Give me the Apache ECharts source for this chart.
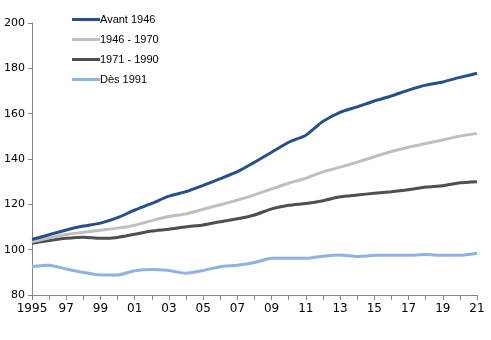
<!DOCTYPE html>
<html>
<head>
<meta charset="utf-8">
<script src="https://cdn.jsdelivr.net/npm/echarts@6/dist/echarts.min.js"></script>
<style>html,body{margin:0;padding:0;background:#fff}#c{width:491px;height:340px}</style>
</head>
<body>
<div id="c"></div>
<script>
const years = ['1995','96','97','98','99','00','01','02','03','04','05','06','07','08','09','10','11','12','13','14','15','16','17','18','19','20','21'];
const seriesNames = ['Avant 1946','1946 - 1970','1971 - 1990','Dès 1991'];
const avant1946 = [104.5,106.6,108.7,110.4,111.7,114.1,117.5,120.4,123.6,125.6,128.4,131.3,134.4,138.6,143.0,147.4,150.5,156.6,160.6,163.0,165.6,167.8,170.4,172.6,174.0,176.0,177.8];
const s1946_1970 = [103.5,105.2,106.7,107.7,108.6,109.5,110.8,112.8,114.6,115.8,117.8,119.8,121.9,124.2,126.8,129.3,131.5,134.3,136.4,138.6,141.0,143.3,145.2,146.8,148.4,150.1,151.3];
const s1971_1990 = [102.8,104.0,105.0,105.5,105.0,105.4,106.8,108.2,109.0,110.1,110.9,112.3,113.6,115.3,118.0,119.6,120.4,121.6,123.3,124.1,124.9,125.6,126.4,127.6,128.2,129.5,130.0];
const des1991 = [92.6,93.1,91.5,90.0,88.8,88.8,90.7,91.3,90.8,89.6,90.8,92.5,93.1,94.3,96.2,96.2,96.2,97.1,97.6,97.0,97.5,97.5,97.5,97.9,97.5,97.5,98.4];
const colors = ['#24508C','#BFBFBF','#4F4F4F','#8DB3E2'];
const dataSets = [avant1946, s1946_1970, s1971_1990, des1991];

const chart = echarts.init(document.getElementById('c'), null, {renderer:'canvas'});
const axisCol = '#868686';
const font = 'Tahoma, "DejaVu Sans", Verdana, sans-serif';
chart.setOption({
  animation: false,
  color: colors,
  grid: {left: 32, right: 14, top: 23, bottom: 45, containLabel: false},
  legend: {
    orient: 'vertical', left: 72, top: 13, itemGap: 7, padding: 0,
    icon: 'rect', itemWidth: 28, itemHeight: 3,
    textStyle: {fontFamily: 'Liberation Sans, Arial, sans-serif', fontSize: 11, color: '#000', padding: [0,0,0,-5], lineHeight: 13},
    data: seriesNames
  },
  xAxis: {
    type: 'category', data: years, boundaryGap: false,
    axisLine: {lineStyle: {color: axisCol, width: 1}},
    axisTick: {show: true, interval: 0, length: 5, inside: false, lineStyle: {color: axisCol}},
    axisLabel: {interval: 1, color: '#000', fontSize: 12, fontFamily: font, margin: 8},
    splitLine: {show: false}
  },
  yAxis: {
    type: 'value', min: 80, max: 200, interval: 20,
    axisLine: {show: true, lineStyle: {color: axisCol, width: 1}},
    axisTick: {show: true, length: 4, lineStyle: {color: axisCol}},
    axisLabel: {color: '#000', fontSize: 11, fontFamily: font, margin: 7},
    splitLine: {show: false}
  },
  series: seriesNames.map((n, i) => ({
    name: n, type: 'line', data: dataSets[i], symbol: 'none', smooth: 0.2,
    lineStyle: {width: 3, color: colors[i]}, z: 10 - i
  }))
});
</script>
</body>
</html>
